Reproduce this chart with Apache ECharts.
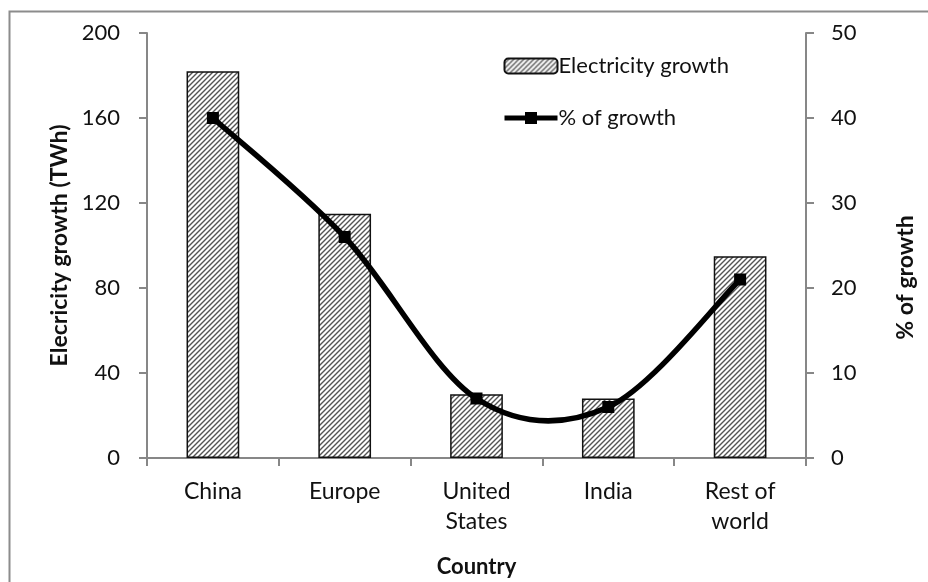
<!DOCTYPE html>
<html>
<head>
<meta charset="utf-8">
<style>
  html, body { margin: 0; padding: 0; background: #fff; }
  #chart { width: 928px; height: 582px; }
</style>
<script src="https://cdn.jsdelivr.net/npm/echarts@6/dist/echarts.min.js"></script>
</head>
<body>
<div id="chart"></div>
<script>
// Electricity demand growth by region
const countries = ['China', 'Europe', 'United\nStates', 'India', 'Rest of\nworld'];
const growthTWh = [182, 115, 30, 28, 95];
const shareOfGrowth = [40, 26, 7, 6, 21];
const leftTicks = { min: 0, max: 200, interval: 40 };
const rightTicks = { min: 0, max: 50, interval: 10 };

// Diagonal hatch fill for the bars
function hatchPattern() {
  const s = 5;
  const c = document.createElement('canvas');
  c.width = s; c.height = s;
  const g = c.getContext('2d');
  g.fillStyle = '#ffffff';
  g.fillRect(0, 0, s, s);
  g.strokeStyle = '#555555';
  g.lineWidth = 1.4;
  g.beginPath();
  g.moveTo(0, s); g.lineTo(s, 0);
  g.moveTo(-s / 2, s / 2); g.lineTo(s / 2, -s / 2);
  g.moveTo(s / 2, s * 1.5); g.lineTo(s * 1.5, s / 2);
  g.stroke();
  return { image: c, repeat: 'repeat' };
}

// Catmull-Rom style bezier segment between point i and i+1 of the share series
function renderCurveSegment(params, api) {
  const i = params.dataIndex;
  const n = shareOfGrowth.length;
  if (i >= n - 1) return null;
  const pt = (k) => {
    const j = Math.max(0, Math.min(n - 1, k));
    return api.coord([j, shareOfGrowth[j]]);
  };
  const p0 = pt(i - 1), p1 = pt(i), p2 = pt(i + 1), p3 = pt(i + 2);
  return {
    type: 'bezierCurve',
    shape: {
      x1: p1[0], y1: p1[1],
      x2: p2[0], y2: p2[1],
      cpx1: p1[0] + (p2[0] - p0[0]) / 6, cpy1: p1[1] + (p2[1] - p0[1]) / 6,
      cpx2: p2[0] - (p3[0] - p1[0]) / 6, cpy2: p2[1] - (p3[1] - p1[1]) / 6
    },
    style: { stroke: '#000', lineWidth: 5.5, fill: null, lineCap: 'round' },
    silent: true
  };
}

const FONT = 'Lato, "Open Sans", sans-serif';
const axisGray = '#878787';
const textColor = '#111111';

const chart = echarts.init(document.getElementById('chart'), null, { renderer: 'canvas' });

chart.setOption({
  backgroundColor: '#ffffff',
  animation: false,
  textStyle: { fontFamily: FONT, color: textColor },
  graphic: [{
    type: 'rect',
    shape: { x: 9.5, y: 11.5, width: 1000, height: 1000 },
    style: { fill: 'none', stroke: '#8c8c8c', lineWidth: 2 },
    silent: true
  }],
  grid: { left: 147, right: 122, top: 33, bottom: 124, containLabel: false, outerBoundsMode: 'none' },
  legend: {
    orient: 'vertical',
    left: 497,
    top: 50,
    itemGap: 30,
    itemWidth: 53,
    itemHeight: 15,
    textStyle: { fontFamily: FONT, fontSize: 22, color: textColor, padding: [0, 0, 0, -4] },
    data: [
      { name: 'Electricity growth' },
      { name: '% of growth', lineStyle: { color: '#000', width: 5, opacity: 1 } }
    ]
  },
  xAxis: {
    type: 'category',
    data: countries,
    name: 'Country',
    nameLocation: 'middle',
    nameGap: 98,
    nameTextStyle: { fontFamily: FONT, fontSize: 22, fontWeight: 'bold', color: textColor },
    axisLine: { lineStyle: { color: axisGray, width: 2 } },
    axisTick: { show: true, length: 8, lineStyle: { color: axisGray, width: 2 } },
    axisLabel: { fontFamily: FONT, fontSize: 23, color: textColor, margin: 19, lineHeight: 30 },
    splitLine: { show: false }
  },
  yAxis: [{
    type: 'value',
    min: leftTicks.min, max: leftTicks.max, interval: leftTicks.interval,
    name: 'Elecricity growth (TWh)',
    nameLocation: 'middle',
    nameGap: 75,
    nameRotate: 90,
    nameTextStyle: { fontFamily: FONT, fontSize: 23, fontWeight: 'bold', color: textColor },
    axisLine: { show: true, lineStyle: { color: axisGray, width: 2 } },
    axisTick: { show: true, length: 8, lineStyle: { color: axisGray, width: 2 } },
    axisLabel: { fontFamily: FONT, fontSize: 22, color: textColor, margin: 27 },
    splitLine: { show: false }
  }, {
    type: 'value',
    position: 'right',
    min: rightTicks.min, max: rightTicks.max, interval: rightTicks.interval,
    name: '% of growth',
    nameLocation: 'middle',
    nameGap: 88,
    nameRotate: 90,
    nameTextStyle: { fontFamily: FONT, fontSize: 23, fontWeight: 'bold', color: textColor, padding: [0, 64, 0, 0] },
    axisLine: { show: true, lineStyle: { color: axisGray, width: 2 } },
    axisTick: { show: true, length: 8, lineStyle: { color: axisGray, width: 2 } },
    axisLabel: { fontFamily: FONT, fontSize: 22, color: textColor, margin: 25 },
    splitLine: { show: false }
  }],
  series: [{
    name: 'Electricity growth',
    type: 'bar',
    yAxisIndex: 0,
    data: growthTWh,
    barWidth: '40%',
    itemStyle: { color: hatchPattern(), borderColor: '#111', borderWidth: 1.5 }
  }, {
    name: '% of growth curve',
    type: 'custom',
    yAxisIndex: 1,
    data: shareOfGrowth,
    renderItem: renderCurveSegment,
    z: 4
  }, {
    name: '% of growth',
    type: 'line',
    yAxisIndex: 1,
    data: shareOfGrowth,
    symbol: 'rect',
    symbolSize: 12,
    lineStyle: { color: '#000', width: 5, opacity: 0 },
    itemStyle: { color: '#000' },
    z: 5
  }]
});
</script>
</body>
</html>
